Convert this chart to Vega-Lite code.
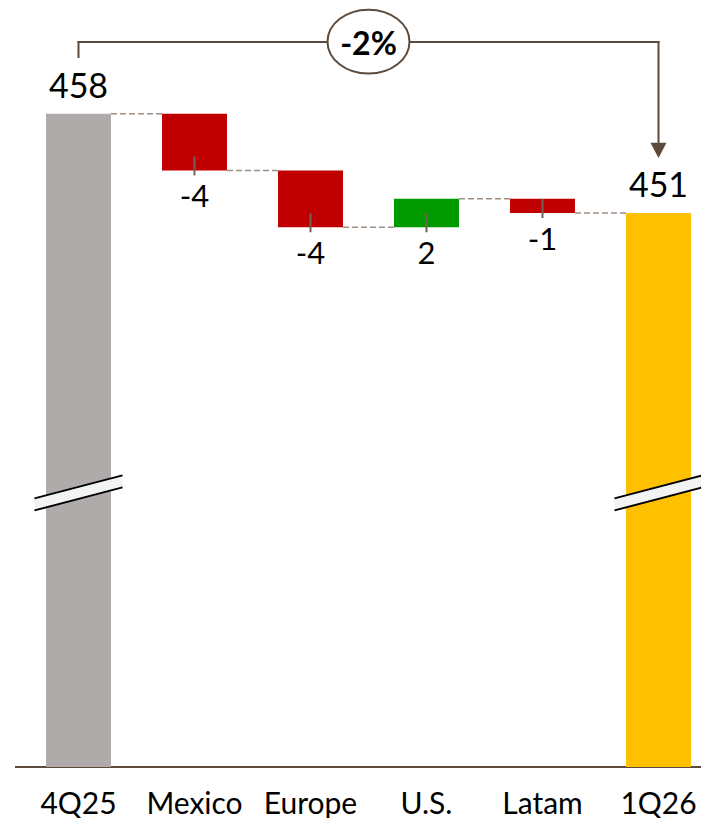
{
  "$schema": "https://vega.github.io/schema/vega-lite/v6.json",
  "width": 686,
  "height": 767,
  "autosize": {"type": "none"},
  "padding": {"left": 15, "top": 0, "right": 0, "bottom": 51},
  "background": "white",
  "config": {
    "view": {"stroke": null},
    "font": "Lato",
    "axisX": {"domain": false, "ticks": false, "grid": false, "labelAngle": 0, "labelFontSize": 30, "labelFont": "Lato", "labelColor": "#000000", "labelBaseline": "alphabetic", "labelPadding": 46, "labelOverlap": false}
  },
  "datasets": {
    "steps": [
      {"cat": "4Q25", "kind": "prior", "value": 458, "lo": 0, "hi": 458},
      {"cat": "Mexico", "kind": "down", "value": -4, "lo": 454, "hi": 458},
      {"cat": "Europe", "kind": "down", "value": -4, "lo": 450, "hi": 454},
      {"cat": "U.S.", "kind": "up", "value": 2, "lo": 450, "hi": 452},
      {"cat": "Latam", "kind": "down", "value": -1, "lo": 451, "hi": 452},
      {"cat": "1Q26", "kind": "current", "value": 451, "lo": 0, "hi": 451}
    ],
    "links": [
      {"from": "4Q25", "to": "Mexico", "level": 458},
      {"from": "Mexico", "to": "Europe", "level": 454},
      {"from": "Europe", "to": "U.S.", "level": 450},
      {"from": "U.S.", "to": "Latam", "level": 452},
      {"from": "Latam", "to": "1Q26", "level": 451}
    ],
    "change": [
      {"from": "4Q25", "to": "1Q26", "mid": "Europe", "start": 458, "end": 451, "label": "-2%"}
    ]
  },
  "layer": [
    {
      "data": {"values": [{}]},
      "mark": {"type": "rule", "color": "#5c4b3c", "strokeWidth": 2},
      "encoding": {
        "y": {"datum": 412, "type": "quantitative", "scale": {"domain": [412, 466], "clamp": true, "nice": false, "zero": false}, "axis": null}
      }
    },
    {
      "data": {"name": "steps"},
      "mark": {"type": "bar"},
      "encoding": {
        "x": {
          "field": "cat", "type": "nominal",
          "scale": {"domain": ["4Q25", "Mexico", "Europe", "U.S.", "Latam", "1Q26"], "range": [5.5, 701.5], "paddingInner": 0.44, "paddingOuter": 0.22},
          "axis": {"title": null}
        },
        "y": {"field": "hi", "type": "quantitative", "scale": {"domain": [412, 466], "clamp": true, "nice": false, "zero": false}, "axis": null},
        "y2": {"field": "lo"},
        "color": {
          "field": "kind", "type": "nominal",
          "scale": {"domain": ["prior", "down", "up", "current"], "range": ["#afabab", "#c00000", "#009900", "#ffc000"]},
          "legend": null
        }
      }
    },
    {
      "data": {"name": "links"},
      "mark": {"type": "rule", "color": "#9e8f84", "strokeWidth": 1.5, "strokeDash": [6, 3], "xOffset": 32.5, "x2Offset": -32.5},
      "encoding": {
        "x": {"field": "from", "type": "nominal", "scale": {"domain": ["4Q25", "Mexico", "Europe", "U.S.", "Latam", "1Q26"], "range": [5.5, 701.5], "paddingInner": 0.44, "paddingOuter": 0.22}, "axis": {"title": null}},
        "x2": {"field": "to"},
        "y": {"field": "level", "type": "quantitative", "scale": {"domain": [412, 466], "clamp": true, "nice": false, "zero": false}, "axis": null}
      }
    },
    {
      "data": {"name": "steps"},
      "transform": [{"filter": "datum.kind == 'prior' || datum.kind == 'current'"}],
      "mark": {"type": "rule", "color": "#f2f3f5", "strokeWidth": 11.6, "strokeCap": "butt", "xOffset": -44, "x2Offset": 44, "yOffset": 11.5, "y2Offset": -11.5},
      "encoding": {
        "x": {"field": "cat", "type": "nominal", "scale": {"domain": ["4Q25", "Mexico", "Europe", "U.S.", "Latam", "1Q26"], "range": [5.5, 701.5], "paddingInner": 0.44, "paddingOuter": 0.22}, "axis": {"title": null}},
        "x2": {"field": "cat"},
        "y": {"datum": 431.3, "type": "quantitative", "scale": {"domain": [412, 466], "clamp": true, "nice": false, "zero": false}, "axis": null},
        "y2": {"datum": 431.3}
      }
    },
    {
      "data": {"name": "steps"},
      "transform": [{"filter": "datum.kind == 'prior' || datum.kind == 'current'"}],
      "mark": {"type": "rule", "color": "#000000", "strokeWidth": 2, "xOffset": -44, "x2Offset": 44, "yOffset": 5.5, "y2Offset": -17.5},
      "encoding": {
        "x": {"field": "cat", "type": "nominal", "scale": {"domain": ["4Q25", "Mexico", "Europe", "U.S.", "Latam", "1Q26"], "range": [5.5, 701.5], "paddingInner": 0.44, "paddingOuter": 0.22}, "axis": {"title": null}},
        "x2": {"field": "cat"},
        "y": {"datum": 431.3, "type": "quantitative", "scale": {"domain": [412, 466], "clamp": true, "nice": false, "zero": false}, "axis": null},
        "y2": {"datum": 431.3}
      }
    },
    {
      "data": {"name": "steps"},
      "transform": [{"filter": "datum.kind == 'prior' || datum.kind == 'current'"}],
      "mark": {"type": "rule", "color": "#000000", "strokeWidth": 2, "xOffset": -44, "x2Offset": 44, "yOffset": 17.5, "y2Offset": -5.5},
      "encoding": {
        "x": {"field": "cat", "type": "nominal", "scale": {"domain": ["4Q25", "Mexico", "Europe", "U.S.", "Latam", "1Q26"], "range": [5.5, 701.5], "paddingInner": 0.44, "paddingOuter": 0.22}, "axis": {"title": null}},
        "x2": {"field": "cat"},
        "y": {"datum": 431.3, "type": "quantitative", "scale": {"domain": [412, 466], "clamp": true, "nice": false, "zero": false}, "axis": null},
        "y2": {"datum": 431.3}
      }
    },
    {
      "data": {"name": "steps"},
      "transform": [{"filter": "datum.kind == 'down' || datum.kind == 'up'"}],
      "mark": {"type": "rule", "color": "#6e6259", "strokeWidth": 2, "yOffset": -14, "y2Offset": 5},
      "encoding": {
        "x": {"field": "cat", "type": "nominal", "scale": {"domain": ["4Q25", "Mexico", "Europe", "U.S.", "Latam", "1Q26"], "range": [5.5, 701.5], "paddingInner": 0.44, "paddingOuter": 0.22}, "axis": {"title": null}},
        "y": {"field": "lo", "type": "quantitative", "scale": {"domain": [412, 466], "clamp": true, "nice": false, "zero": false}, "axis": null},
        "y2": {"field": "lo"}
      }
    },
    {
      "data": {"name": "steps"},
      "transform": [{"filter": "datum.kind == 'down' || datum.kind == 'up'"}],
      "mark": {"type": "text", "font": "Lato", "fontSize": 31, "color": "#000000", "baseline": "alphabetic", "align": "center", "dy": 37},
      "encoding": {
        "x": {"field": "cat", "type": "nominal", "scale": {"domain": ["4Q25", "Mexico", "Europe", "U.S.", "Latam", "1Q26"], "range": [5.5, 701.5], "paddingInner": 0.44, "paddingOuter": 0.22}, "axis": {"title": null}},
        "y": {"field": "lo", "type": "quantitative", "scale": {"domain": [412, 466], "clamp": true, "nice": false, "zero": false}, "axis": null},
        "text": {"field": "value", "type": "nominal"}
      }
    },
    {
      "data": {"name": "steps"},
      "transform": [{"filter": "datum.kind == 'prior' || datum.kind == 'current'"}],
      "mark": {"type": "text", "font": "Lato", "fontSize": 34, "color": "#000000", "baseline": "alphabetic", "align": "center", "dy": -16},
      "encoding": {
        "x": {"field": "cat", "type": "nominal", "scale": {"domain": ["4Q25", "Mexico", "Europe", "U.S.", "Latam", "1Q26"], "range": [5.5, 701.5], "paddingInner": 0.44, "paddingOuter": 0.22}, "axis": {"title": null}},
        "y": {"field": "hi", "type": "quantitative", "scale": {"domain": [412, 466], "clamp": true, "nice": false, "zero": false}, "axis": null},
        "text": {"field": "value", "type": "nominal"}
      }
    },
    {
      "data": {"name": "change"},
      "mark": {"type": "rule", "color": "#5c4b3c", "strokeWidth": 2, "yOffset": -55.6, "y2Offset": -72.6},
      "encoding": {
        "x": {"field": "from", "type": "nominal", "scale": {"domain": ["4Q25", "Mexico", "Europe", "U.S.", "Latam", "1Q26"], "range": [5.5, 701.5], "paddingInner": 0.44, "paddingOuter": 0.22}, "axis": {"title": null}},
        "y": {"field": "start", "type": "quantitative", "scale": {"domain": [412, 466], "clamp": true, "nice": false, "zero": false}, "axis": null},
        "y2": {"field": "start"}
      }
    },
    {
      "data": {"name": "change"},
      "mark": {"type": "rule", "color": "#5c4b3c", "strokeWidth": 2, "yOffset": -71.6, "xOffset": -1, "x2Offset": 1},
      "encoding": {
        "x": {"field": "from", "type": "nominal", "scale": {"domain": ["4Q25", "Mexico", "Europe", "U.S.", "Latam", "1Q26"], "range": [5.5, 701.5], "paddingInner": 0.44, "paddingOuter": 0.22}, "axis": {"title": null}},
        "x2": {"field": "to"},
        "y": {"field": "start", "type": "quantitative", "scale": {"domain": [412, 466], "clamp": true, "nice": false, "zero": false}, "axis": null}
      }
    },
    {
      "data": {"name": "change"},
      "mark": {"type": "rule", "color": "#5c4b3c", "strokeWidth": 2, "yOffset": -72.6, "y2Offset": -68},
      "encoding": {
        "x": {"field": "to", "type": "nominal", "scale": {"domain": ["4Q25", "Mexico", "Europe", "U.S.", "Latam", "1Q26"], "range": [5.5, 701.5], "paddingInner": 0.44, "paddingOuter": 0.22}, "axis": {"title": null}},
        "y": {"field": "start", "type": "quantitative", "scale": {"domain": [412, 466], "clamp": true, "nice": false, "zero": false}, "axis": null},
        "y2": {"field": "end"}
      }
    },
    {
      "data": {"name": "change"},
      "mark": {"type": "point", "shape": "M-1,-0.9L1,-0.9L0,1Z", "size": 256, "filled": true, "opacity": 1, "color": "#5c4b3c", "yOffset": -63},
      "encoding": {
        "x": {"field": "to", "type": "nominal", "scale": {"domain": ["4Q25", "Mexico", "Europe", "U.S.", "Latam", "1Q26"], "range": [5.5, 701.5], "paddingInner": 0.44, "paddingOuter": 0.22}, "axis": {"title": null}},
        "y": {"field": "end", "type": "quantitative", "scale": {"domain": [412, 466], "clamp": true, "nice": false, "zero": false}, "axis": null}
      }
    },
    {
      "data": {"name": "change"},
      "mark": {
        "type": "point",
        "shape": "M-1,0C-1,-0.4308,-0.5523,-0.78,0,-0.78C0.5523,-0.78,1,-0.4308,1,0C1,0.4308,0.5523,0.78,0,0.78C-0.5523,0.78,-1,0.4308,-1,0Z",
        "size": 6724, "filled": false, "fill": "#ffffff", "fillOpacity": 1, "stroke": "#5c4b3c", "strokeWidth": 2, "opacity": 1,
        "xOffset": 58, "yOffset": -72
      },
      "encoding": {
        "x": {"field": "mid", "type": "nominal", "scale": {"domain": ["4Q25", "Mexico", "Europe", "U.S.", "Latam", "1Q26"], "range": [5.5, 701.5], "paddingInner": 0.44, "paddingOuter": 0.22}, "axis": {"title": null}},
        "y": {"field": "start", "type": "quantitative", "scale": {"domain": [412, 466], "clamp": true, "nice": false, "zero": false}, "axis": null}
      }
    },
    {
      "data": {"name": "change"},
      "mark": {"type": "text", "font": "Lato", "fontSize": 32, "fontWeight": "bold", "color": "#000000", "baseline": "alphabetic", "align": "center", "dx": 58, "dy": -58.6},
      "encoding": {
        "x": {"field": "mid", "type": "nominal", "scale": {"domain": ["4Q25", "Mexico", "Europe", "U.S.", "Latam", "1Q26"], "range": [5.5, 701.5], "paddingInner": 0.44, "paddingOuter": 0.22}, "axis": {"title": null}},
        "y": {"field": "start", "type": "quantitative", "scale": {"domain": [412, 466], "clamp": true, "nice": false, "zero": false}, "axis": null},
        "text": {"field": "label", "type": "nominal"}
      }
    }
  ]
}
